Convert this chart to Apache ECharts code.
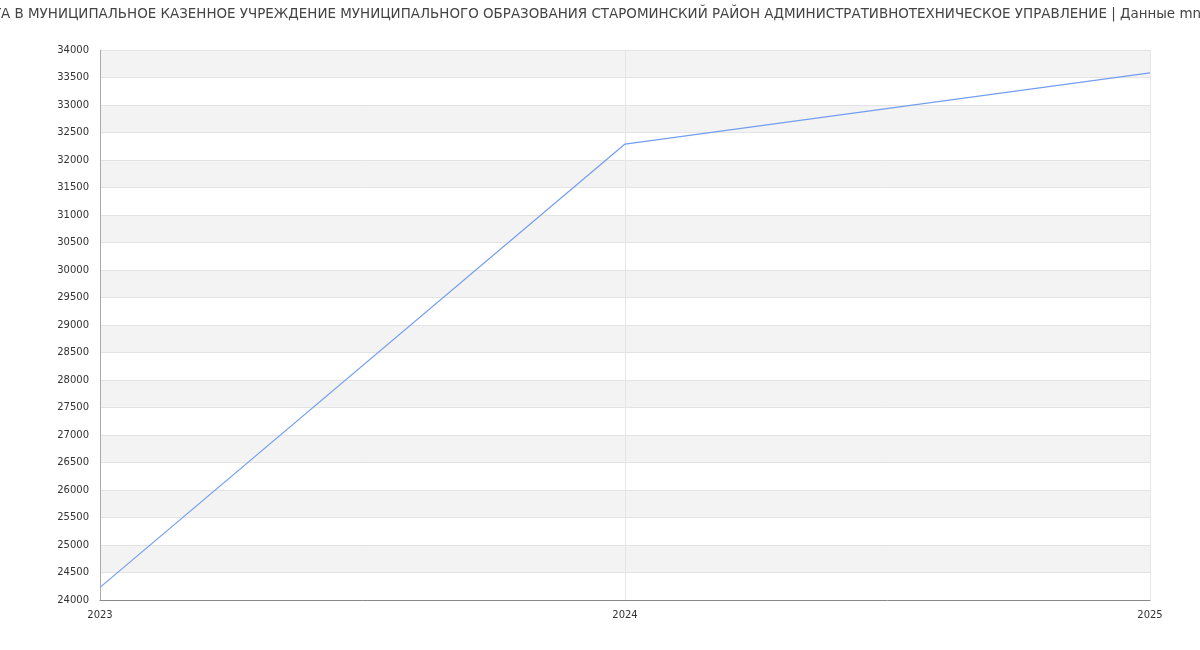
<html>
<head>
    <meta charset="utf-8" />
    <title>Зарплата</title>
    <script src="https://cdn.jsdelivr.net/npm/echarts@6/dist/echarts.min.js"></script>
</head>
<body style="margin:0;">
    <div id="salaryChart" style="width: 1200px;height:650px;"></div>
    <script type="text/javascript">
        // data
        var years = ['2023', '2024', '2025'];
        var salary = [24230, 32290, 33585];
        var chartTitle = 'СРЕДНЯЯ ЗАРПЛАТА В МУНИЦИПАЛЬНОЕ КАЗЕННОЕ УЧРЕЖДЕНИЕ МУНИЦИПАЛЬНОГО ОБРАЗОВАНИЯ СТАРОМИНСКИЙ РАЙОН АДМИНИСТРАТИВНОТЕХНИЧЕСКОЕ УПРАВЛЕНИЕ | Данные mnogo-zarplat.ru';
        var titleFont = '13.45px "DejaVu Sans"';

        // title overflows the page on both sides, place it by its measured width
        var ctx = document.createElement('canvas').getContext('2d');
        ctx.font = titleFont;
        var titleWidth = ctx.measureText(chartTitle).width;
        var titleLeft = Math.round(600 - titleWidth / 2 - 18) - 5;

        var chartDom = document.getElementById('salaryChart');
        var salaryChart = echarts.init(chartDom);
        var option;

        option = {
            animation: false,
            title: {
                text: chartTitle,
                left: titleLeft,
                top: 3,
                textStyle: {
                    fontFamily: 'DejaVu Sans',
                    fontSize: 13.45,
                    fontWeight: 'normal',
                    color: '#444'
                }
            },
            grid: {
                left: 100,
                right: 50,
                top: 50,
                bottom: 50
            },
            xAxis: {
                type: 'category',
                data: years,
                boundaryGap: false,
                axisLine: { lineStyle: { color: '#888' } },
                axisTick: { show: false },
                axisLabel: {
                    fontFamily: 'DejaVu Sans',
                    fontSize: 10,
                    color: '#333',
                    margin: 10
                },
                splitLine: { show: true, lineStyle: { color: '#e6e6e6' } }
            },
            yAxis: {
                type: 'value',
                min: 24000,
                max: 34000,
                interval: 500,
                axisLine: { show: true, lineStyle: { color: '#aaa' } },
                axisTick: { show: false },
                axisLabel: {
                    fontFamily: 'DejaVu Sans',
                    fontSize: 10,
                    color: '#333',
                    margin: 11,
                    formatter: function (v) { return String(v); }
                },
                splitLine: { show: true, lineStyle: { color: '#e3e3e3' } },
                splitArea: { show: true, areaStyle: { color: ['#ffffff', '#f3f3f3'] } }
            },
            series: [
                {
                    type: 'line',
                    data: salary,
                    showSymbol: false,
                    lineStyle: { color: '#739ef0', width: 1.2 }
                }
            ]
        };
        option && salaryChart.setOption(option);
    </script>
</body>
</html>
